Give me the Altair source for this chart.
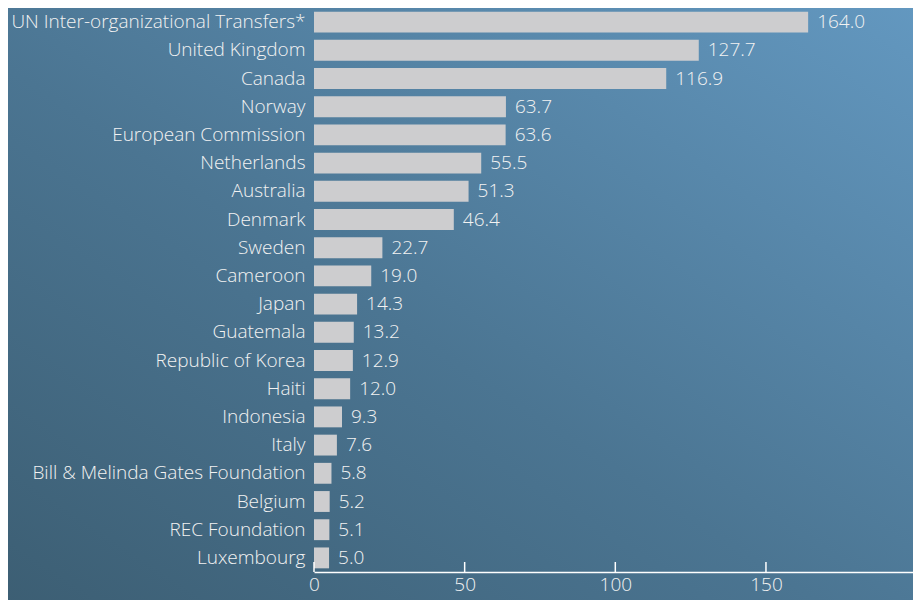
import altair as alt
import pandas as pd

donors = [
    "UN Inter-organizational Transfers*", "United Kingdom", "Canada", "Norway",
    "European Commission", "Netherlands", "Australia", "Denmark", "Sweden",
    "Cameroon", "Japan", "Guatemala", "Republic of Korea", "Haiti", "Indonesia",
    "Italy", "Bill & Melinda Gates Foundation", "Belgium", "REC Foundation", "Luxembourg",
]
amounts = [164.0, 127.7, 116.9, 63.7, 63.6, 55.5, 51.3, 46.4, 22.7, 19.0,
           14.3, 13.2, 12.9, 12.0, 9.3, 7.6, 5.8, 5.2, 5.1, 5.0]
tick_values = [0, 50, 100, 150, 200]

W, H = 599, 564
LEFT, BOTTOM = 306, 28
FONT = "Open Sans"
FS = 19
FW = 300
TXT = "#f2f2f2"

df = pd.DataFrame({"donor": donors, "amount": amounts})
ticks_df = pd.DataFrame({"t": tick_values})

xscale = alt.Scale(domain=[0, 198.8], nice=False, zero=True)
yscale = alt.Scale(paddingInner=0.26, paddingOuter=0.13)

bg = alt.Chart(alt.Data(values=[{}])).mark_rect(
    fill=alt.Gradient(
        gradient="linear", x1=0, y1=1, x2=1, y2=0,
        stops=[
            alt.GradientStop(offset=0, color="#3c5e73"),
            alt.GradientStop(offset=0.45, color="#4b7592"),
            alt.GradientStop(offset=1, color="#6398c0"),
        ],
    ),
    clip=False,
).encode(x=alt.value(-LEFT), x2=alt.value(W + 10), y=alt.value(0), y2=alt.value(H + BOTTOM + 10))

bars = alt.Chart(df).mark_bar(color="#cdcdcf").encode(
    x=alt.X("amount:Q", scale=xscale,
            axis=alt.Axis(values=tick_values, tickSize=0, labelPadding=3,
                          labelFontSize=FS, labelFontWeight=FW, labelColor=TXT, labelFont=FONT,
                          domainColor="#ffffff", domainWidth=1.5, grid=False,
                          title=None, labelFlush=False, zindex=1)),
    y=alt.Y("donor:N", sort=donors, scale=yscale,
            axis=alt.Axis(title=None, ticks=False, domain=False, labelPadding=9,
                          labelFontSize=FS, labelFontWeight=FW, labelColor=TXT, labelFont=FONT,
                          labelLimit=400, zindex=1)),
)

labels = alt.Chart(df).mark_text(
    align="left", baseline="middle", dx=9, fontSize=FS, fontWeight=FW, color=TXT, font=FONT
).encode(
    x=alt.X("amount:Q", scale=xscale),
    y=alt.Y("donor:N", sort=donors, scale=yscale),
    text=alt.Text("amount:Q", format=".1f"),
)

tick_marks = alt.Chart(ticks_df).mark_rule(color="#ffffff", strokeWidth=1.5).encode(
    x=alt.X("t:Q", scale=xscale),
    y=alt.value(H - 10),
    y2=alt.value(H),
)

chart = alt.layer(bg, bars, labels, tick_marks).properties(
    width=W, height=H,
    autosize=alt.AutoSizeParams(type="none"),
    padding={"left": LEFT, "top": 0, "right": 0, "bottom": BOTTOM},
    background="#4a7390",
).configure_view(stroke=None)

chart.save("out.html", embed_options={"renderer": "svg", "actions": False})
